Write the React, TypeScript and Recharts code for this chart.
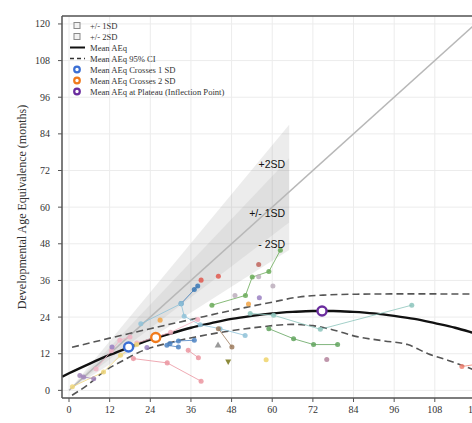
import React from 'react';
import {
  ComposedChart,
  XAxis,
  YAxis,
  ZAxis,
  CartesianGrid,
  Line,
  Area,
  Scatter,
  ReferenceDot,
  ReferenceLine,
  Legend,
} from 'recharts';

const xTicks = [0, 12, 24, 36, 48, 60, 72, 84, 96, 108, 120];
const yTicks = [0, 12, 24, 36, 48, 60, 72, 84, 96, 108, 120];

// reference (identity) line and SD bands
const identity = [{ x: 0, y: 0 }, { x: 124, y: 124 }];
const band2SD = [{ x: 0, range: [0, 0] }, { x: 65, range: [46, 87] }];
const band1SD = [{ x: 0, range: [0, 0] }, { x: 65, range: [55, 76] }];

// mean AEq curve and 95% CI
const meanAEq = [
  { x: -2, y: 4.5 }, { x: 0, y: 5.6 }, { x: 6, y: 8.7 }, { x: 12, y: 11.6 },
  { x: 18, y: 14.2 }, { x: 24, y: 16.6 }, { x: 30, y: 18.6 }, { x: 36, y: 20.5 },
  { x: 42, y: 22.0 }, { x: 48, y: 23.4 }, { x: 54, y: 24.4 }, { x: 60, y: 25.2 },
  { x: 66, y: 25.7 }, { x: 72, y: 26.0 }, { x: 78, y: 26.0 }, { x: 84, y: 25.7 },
  { x: 90, y: 25.2 }, { x: 96, y: 24.4 }, { x: 102, y: 23.4 }, { x: 108, y: 22.0 },
  { x: 114, y: 20.5 }, { x: 120, y: 18.6 }, { x: 124, y: 17.3 },
];
const ciUpper = [
  { x: 0.9, y: 14.1 }, { x: 12, y: 17.1 }, { x: 24, y: 20.2 }, { x: 36, y: 23.2 },
  { x: 48, y: 26.2 }, { x: 60, y: 28.9 }, { x: 68, y: 30.6 }, { x: 75, y: 31.2 },
  { x: 85, y: 31.5 }, { x: 100, y: 31.6 }, { x: 124, y: 31.5 },
];
const ciLower = [
  { x: 0.9, y: -1.6 }, { x: 6, y: 2.2 }, { x: 10, y: 5.9 }, { x: 16, y: 9.8 },
  { x: 22, y: 13.1 }, { x: 30, y: 15.7 }, { x: 37, y: 17.4 }, { x: 46, y: 19.2 },
  { x: 56, y: 20.7 }, { x: 66, y: 21.6 }, { x: 72, y: 21.2 }, { x: 78, y: 19.8 },
  { x: 85, y: 17.6 }, { x: 93, y: 16.2 }, { x: 100, y: 15.0 }, { x: 106, y: 12.0 },
  { x: 112, y: 9.8 }, { x: 118, y: 7.4 }, { x: 124, y: 4.8 },
];

// key points on the mean curve
const cross1SD = [{ x: 17.6, y: 14.2 }];
const cross2SD = [{ x: 25.6, y: 17.3 }];
const plateau = [{ x: 74.7, y: 26.0 }];

// individual trajectories
const trajSteel = [{ x: 33.1, y: 28.4 }, { x: 37, y: 33 }, { x: 38, y: 34.2 }];
const trajLightBlue = [
  { x: 21.2, y: 21.8 }, { x: 33.1, y: 28.4 }, { x: 34, y: 24.3 }, { x: 38.7, y: 21.5 },
  { x: 44.6, y: 20.2 }, { x: 52, y: 18 },
];
const trajTeal = [{ x: 53.5, y: 25.2 }, { x: 60.4, y: 24.6 }, { x: 74.2, y: 20 }, { x: 101.2, y: 27.9 }];
const trajGreenLow = [{ x: 59, y: 20.2 }, { x: 66.3, y: 16.9 }, { x: 72.2, y: 15 }, { x: 79.3, y: 15 }];
const trajGreenHigh = [
  { x: 42.2, y: 27.9 }, { x: 52.1, y: 31.1 }, { x: 54.1, y: 37.1 }, { x: 59, y: 38.9 },
  { x: 62.4, y: 45.9 },
];
const trajBrown = [{ x: 44.1, y: 20.2 }, { x: 48.1, y: 14.2 }];
const trajPinkA = [{ x: 19, y: 10.4 }, { x: 29, y: 9 }, { x: 39, y: 3 }];
const trajPinkB = [{ x: 35.2, y: 13.1 }, { x: 38.2, y: 10.7 }];
const trajPinkC = [{ x: 20, y: 15.5 }, { x: 30, y: 19 }, { x: 38, y: 23.2 }];
const trajBlueA = [{ x: 29.8, y: 15.3 }, { x: 32.3, y: 16.2 }, { x: 37, y: 16.4 }];
const trajBlueB = [{ x: 28.9, y: 14.8 }, { x: 32.3, y: 14.2 }];
const trajYellow = [{ x: 1, y: 1.2 }, { x: 10.2, y: 6 }, { x: 15.2, y: 11.5 }, { x: 20, y: 15 }];
const trajPurple = [{ x: 3.2, y: 4.9 }, { x: 4.3, y: 4.4 }, { x: 7.3, y: 3.8 }];
const trajRose = [{ x: 8, y: 7 }, { x: 12.5, y: 13 }, { x: 15, y: 16.4 }, { x: 18, y: 17.5 }];
const trajSalmon = [{ x: 116, y: 7.8 }, { x: 120, y: 8.5 }];

const dotsGrey = [{ x: 49, y: 31.1 }, { x: 56, y: 37.2 }, { x: 60.2, y: 34.2 }];
const dotsRed = [{ x: 39, y: 36.1 }, { x: 44.1, y: 37.4 }];
const dotsBrownRed = [{ x: 56, y: 41.2 }];
const dotsOrange = [{ x: 26.9, y: 23 }, { x: 53, y: 28.3 }];
const dotsViolet = [{ x: 56.2, y: 30.3 }, { x: 23, y: 14 }, { x: 12.7, y: 14.2 }];
const dotsYellow = [{ x: 58.2, y: 10 }];
const dotsMauve = [{ x: 76.1, y: 10.1 }];
const triUp = [{ x: 44, y: 14.7 }];
const triDown = [{ x: 47, y: 9.3 }];

const annotations = [
  { x: 63.8, y: 74.1, label: '+2SD' },
  { x: 63.8, y: 58, label: '+/- 1SD' },
  { x: 63.8, y: 47.9, label: '- 2SD' },
];

const legendRows = [
  '+/- 1SD',
  '+/- 2SD',
  'Mean AEq',
  'Mean AEq 95% CI',
  'Mean AEq Crosses 1 SD',
  'Mean AEq Crosses 2 SD',
  'Mean AEq at Plateau (Inflection Point)',
];

const SERIF = '"Liberation Serif", "DejaVu Serif", serif';
const BLUE = '#3b6fd4';
const ORANGE = '#f07a1c';
const PURPLE = '#6a2c9e';

const trajectories = [
  { data: trajSteel, color: '#3a78b5' },
  { data: trajLightBlue, color: '#8fc2d8' },
  { data: trajTeal, color: '#8cc4bc' },
  { data: trajGreenLow, color: '#62a45e' },
  { data: trajGreenHigh, color: '#6aaa58' },
  { data: trajBrown, color: '#9c7a5c' },
  { data: trajPinkA, color: '#eb95a0' },
  { data: trajPinkB, color: '#eb95a0' },
  { data: trajPinkC, color: '#f2b0c0' },
  { data: trajBlueA, color: '#4c82c2' },
  { data: trajBlueB, color: '#4c82c2' },
  { data: trajYellow, color: '#efd67a' },
  { data: trajPurple, color: '#a387bb' },
  { data: trajRose, color: '#f2b3c4' },
  { data: trajSalmon, color: '#f08474' },
];

const singles = [
  { data: dotsGrey, color: '#bcaebc' },
  { data: dotsRed, color: '#e0584e' },
  { data: dotsBrownRed, color: '#c0645c' },
  { data: dotsOrange, color: '#f2a445' },
  { data: dotsViolet, color: '#9a80c2' },
  { data: dotsYellow, color: '#eed36a' },
  { data: dotsMauve, color: '#b4849c' },
];

const DownTriangle = (props: any) => {
  const { cx, cy } = props;
  return <path d={`M${cx - 3},${cy - 2.5} L${cx + 3},${cy - 2.5} L${cx},${cy + 3} Z`} fill="#8c8a3a" />;
};

const LegendBox = () => (
  <svg width={200} height={82} style={{ display: 'block' }}>
    {legendRows.map((label, i) => {
      const y = 7.5 + i * 11;
      let icon: React.ReactNode = null;
      if (i < 2) icon = <rect x={10} y={y - 3} width={6} height={6} fill="#f2f2f2" stroke="#8a8a8a" strokeWidth={1} />;
      else if (i === 2) icon = <line x1={6} x2={21} y1={y} y2={y} stroke="#111" strokeWidth={2} />;
      else if (i === 3) icon = <line x1={6} x2={21} y1={y} y2={y} stroke="#333" strokeWidth={1.6} strokeDasharray="4 3" />;
      else {
        const c = i === 4 ? BLUE : i === 5 ? ORANGE : PURPLE;
        icon = <circle cx={13} cy={y} r={2.8} fill="#fff" stroke={c} strokeWidth={2.2} />;
      }
      return (
        <g key={label}>
          {icon}
          <text x={26} y={y} dominantBaseline="central" fontSize={8.6} fontFamily={SERIF} fill="#333">
            {label}
          </text>
        </g>
      );
    })}
  </svg>
);

export default function App() {
  return (
    <div style={{ position: 'absolute', left: 0, top: 0, width: 472, height: 423, overflow: 'hidden', background: '#fff' }}>
      <ComposedChart width={500} height={423} margin={{ top: 16, right: 11, left: 12, bottom: 0 }}>
        <CartesianGrid stroke="#ececec" strokeWidth={1} />
        <XAxis
          type="number"
          dataKey="x"
          domain={[-2.07, 124]}
          ticks={xTicks}
          interval={0}
          allowDataOverflow
          height={25}
          tickSize={4}
          tickMargin={4}
          tick={{ fontSize: 10, fontFamily: SERIF, fill: '#333' }}
          axisLine={{ stroke: '#555', strokeWidth: 1.5 }}
          tickLine={{ stroke: '#555' }}
          label={{ value: 'Chronological Age (months)', position: 'bottom', offset: 0, fontSize: 12, fontFamily: SERIF, fill: '#555' }}
        />
        <YAxis
          type="number"
          dataKey="y"
          domain={[-2.5, 122.6]}
          ticks={yTicks}
          interval={0}
          allowDataOverflow
          width={50}
          tickSize={4}
          tickMargin={8}
          tick={{ fontSize: 10, fontFamily: SERIF, fill: '#333' }}
          axisLine={{ stroke: '#555', strokeWidth: 1.5 }}
          tickLine={{ stroke: '#555' }}
          label={{
            value: 'Developmental Age Equivalence (months)',
            angle: -90,
            position: 'insideLeft',
            offset: 10,
            style: { textAnchor: 'middle' },
            fontSize: 12,
            fontFamily: SERIF,
            fill: '#333',
          }}
        />
        <ZAxis range={[20, 20]} />
        <ZAxis zAxisId="marker" range={[60, 60]} />
        <ReferenceLine y={122.6} stroke="#555" strokeWidth={1.5} />

        <Area data={band2SD} dataKey="range" type="linear" stroke="none" fill="#808080" fillOpacity={0.15} isAnimationActive={false} />
        <Area data={band1SD} dataKey="range" type="linear" stroke="none" fill="#808080" fillOpacity={0.12} isAnimationActive={false} />
        <Line data={identity} dataKey="y" type="linear" stroke="#b8b8b8" strokeWidth={1.5} dot={false} isAnimationActive={false} />

        {trajectories.map((t, i) => (
          <Scatter
            key={`t${i}`}
            data={t.data}
            fill={t.color}
            fillOpacity={0.85}
            line={{ stroke: t.color, strokeWidth: 1, strokeOpacity: 0.8 }}
            isAnimationActive={false}
          />
        ))}
        {singles.map((s, i) => (
          <Scatter key={`s${i}`} data={s.data} fill={s.color} fillOpacity={0.85} isAnimationActive={false} />
        ))}
        <Scatter data={triUp} shape="triangle" fill="#9a9a9a" isAnimationActive={false} />
        <Scatter data={triDown} shape={DownTriangle} isAnimationActive={false} />

        <Line data={ciUpper} dataKey="y" type="monotone" stroke="#555" strokeWidth={1.6} strokeDasharray="7 4" dot={false} isAnimationActive={false} />
        <Line data={ciLower} dataKey="y" type="monotone" stroke="#555" strokeWidth={1.6} strokeDasharray="7 4" dot={false} isAnimationActive={false} />
        <Line data={meanAEq} dataKey="y" type="monotone" stroke="#111" strokeWidth={2.4} dot={false} isAnimationActive={false} />

        <Scatter data={cross1SD} zAxisId="marker" fill="#fff" stroke={BLUE} strokeWidth={2.4} isAnimationActive={false} />
        <Scatter data={cross2SD} zAxisId="marker" fill="#fff" stroke={ORANGE} strokeWidth={2.4} isAnimationActive={false} />
        <Scatter data={plateau} zAxisId="marker" fill="#fff" stroke={PURPLE} strokeWidth={2.4} isAnimationActive={false} />

        {annotations.map((a) => (
          <ReferenceDot
            key={a.label}
            x={a.x}
            y={a.y}
            r={0}
            stroke="none"
            label={{ value: a.label, position: 'left', offset: 0, fontSize: 10.5, fontFamily: '"Liberation Sans", Arial, sans-serif', fill: '#111' }}
          />
        ))}

        <Legend
          layout="vertical"
          verticalAlign="middle"
          align="center"
          content={() => <LegendBox />}
          wrapperStyle={{ position: 'absolute', left: 64, top: 18, width: 200, height: 82 }}
        />
      </ComposedChart>
    </div>
  );
}
